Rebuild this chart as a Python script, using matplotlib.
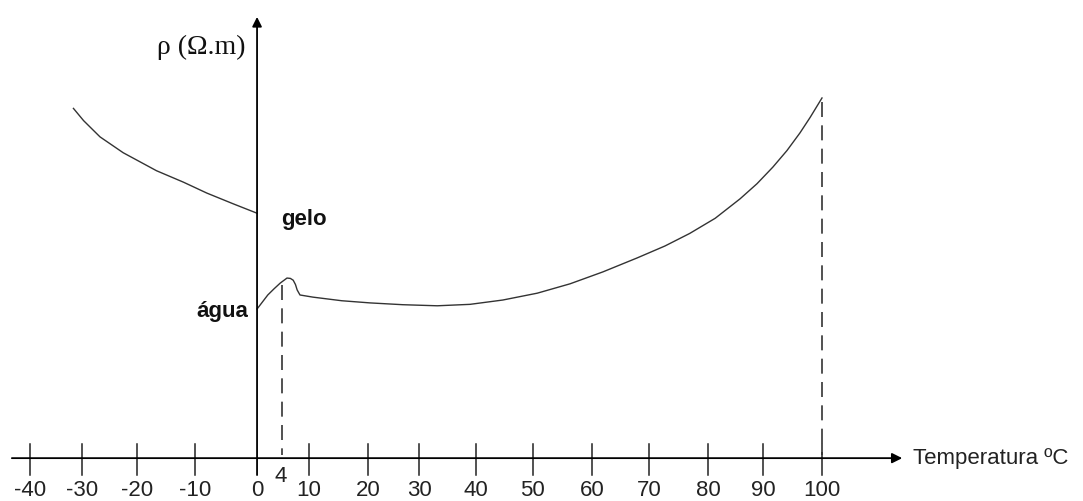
import matplotlib.pyplot as plt

# ice branch (T in ºC, rho in arbitrary units)
gelo_t = [-32.5, -30.7, -27.8, -23.7, -17.8, -13.0, -8.9, -4.2, 0.0]
gelo_rho = [97.1, 93.7, 89.2, 84.8, 79.8, 76.6, 73.6, 70.6, 68.0]

# water branch
agua_t = [0.0, 1.9, 3.0, 4.1, 5.3, 5.9, 6.4, 6.8, 7.1, 7.6, 9.9, 15.0, 20.0,
          25.8, 31.9, 37.7, 43.5, 49.6, 55.4, 61.2, 67.3, 72.2, 76.6, 81.1,
          85.5, 88.5, 91.3, 93.8, 96.1, 97.9, 100.0]
agua_rho = [41.4, 45.3, 47.0, 48.6, 50.0, 49.9, 49.4, 48.2, 46.7, 45.3, 44.7,
            43.7, 43.1, 42.6, 42.3, 42.7, 43.9, 45.8, 48.4, 51.7, 55.6, 58.9,
            62.4, 66.6, 72.0, 76.2, 80.8, 85.4, 90.3, 94.6, 100.0]

# ticks as drawn on the axis, and their labels
tick_pos = [-40.2, -31.0, -21.2, -11.0, 9.2, 19.6, 28.7, 38.8, 48.8, 59.3,
            69.4, 79.8, 89.6, 100.0]
tick_labels = ['-40', '-30', '-20', '-10', '10', '20', '30', '40', '50', '60',
               '70', '80', '90', '100']

sans = 'Liberation Sans'
serif = 'Liberation Serif'

fig = plt.figure(figsize=(10.83, 5.01), dpi=100)
ax = fig.add_axes([0, 0, 1, 1])
ax.set_xlim(-45.5, 146.2)
ax.set_ylim(-11.9, 127.2)
ax.axis('off')

# axes with arrows
ax.annotate('', xy=(114.2, 0), xytext=(-43.4, 0),
            arrowprops=dict(arrowstyle='-|>', color='black', lw=1.3,
                            mutation_scale=15, shrinkA=0, shrinkB=0))
ax.annotate('', xy=(0, 122.5), xytext=(0, -4.7),
            arrowprops=dict(arrowstyle='-|>', color='black', lw=1.3,
                            mutation_scale=14, shrinkA=0, shrinkB=0))

# tick marks and labels
for pos, lab in zip(tick_pos, tick_labels):
    ax.plot([pos, pos], [3.9, -4.7], color='#222222', lw=1.1)
    ax.text(pos, -8.9, lab, ha='center', va='center', fontsize=16,
            family=sans, color='#222222')
ax.text(0, -9.1, '0', ha='center', va='center', fontsize=16, family=sans, color='#222222')
ax.text(4.1, -5.0, '4', ha='center', va='center', fontsize=16, family=sans, color='#222222')

# curves
ax.plot(gelo_t, gelo_rho, color='#333333', lw=1.0)
ax.plot(agua_t, agua_rho, color='#333333', lw=1.0)

# dashed guides at 4 ºC and 100 ºC
ax.plot([4.4, 4.4], [48.0, 0.8], color='#333333', lw=1.2, linestyle=(0, (9, 5)))
ax.plot([100.0, 100.0], [99.0, 0.8], color='#333333', lw=1.2, linestyle=(0, (9, 5)))

# labels
ax.text(-2.1, 114.0, 'ρ (Ω.m)', ha='right', va='center', fontsize=20,
        family=serif, color='#111111')
ax.text(116.1, 0, 'Temperatura ºC', ha='left', va='center', fontsize=16,
        family=sans, color='#222222')
ax.text(4.2, 66.3, 'gelo', ha='left', va='center', fontsize=16,
        family=sans, fontweight='bold', color='#111111')
ax.text(-1.6, 40.6, 'água', ha='right', va='center', fontsize=16,
        family=sans, fontweight='bold', color='#111111')

fig.savefig('out.png', dpi=100)
